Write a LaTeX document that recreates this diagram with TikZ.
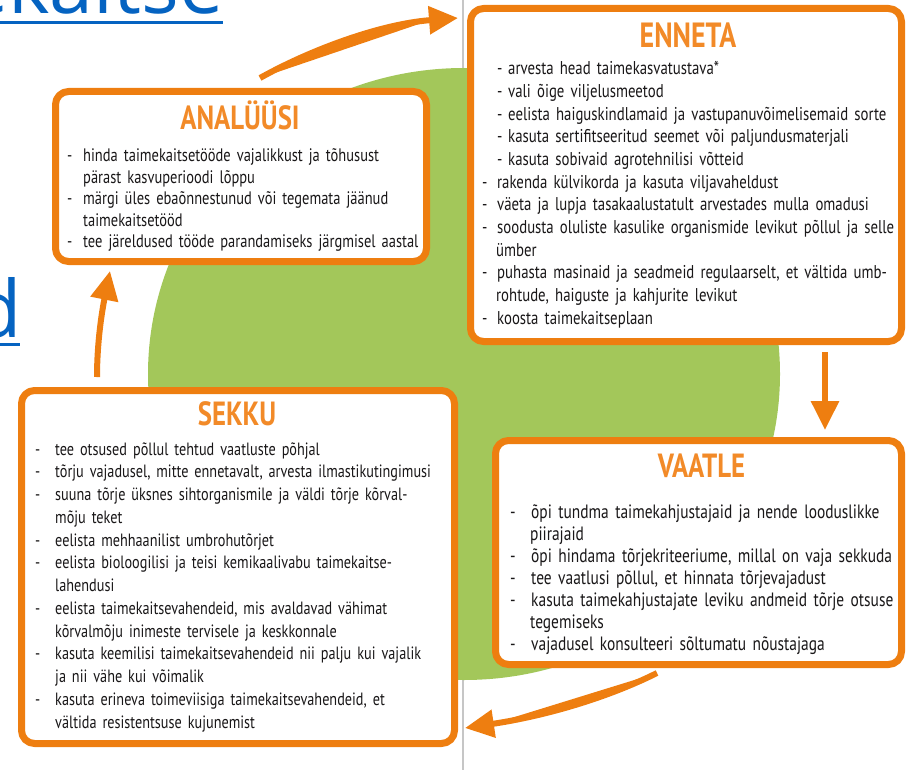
\documentclass[tikz,border=0pt]{standalone}
\usepackage{fontspec}
\usetikzlibrary{arrows.meta}
\newfontfamily\boxfont[FakeStretch=0.8]{PT Sans}
\newfontfamily\linkfont{Open Sans}
\definecolor{ipmorange}{RGB}{238,126,16}
\definecolor{ipmtitle}{RGB}{242,138,40}
\definecolor{ipmgreen}{RGB}{163,199,90}
\definecolor{ipmtext}{RGB}{25,23,24}
\definecolor{linkblue}{RGB}{5,99,193}
\newcommand\li[1][16pt]{\makebox[#1][l]{-}}
\newcommand\cn[1][16pt]{\hspace*{#1}}
\begin{document}
\begin{tikzpicture}[x=1pt,y=-1pt,line join=round,>={Triangle[length=29pt,width=27pt]},
  box/.style={draw=ipmorange,line width=7pt,rounded corners=13pt,fill=white,inner sep=0pt,outer sep=0pt},
  title/.style={anchor=base,inner sep=0pt,text=ipmtitle,font=\boxfont\bfseries\fontsize{33.5}{34}\selectfont},
  body/.style={anchor=base west,inner sep=0pt,text=ipmtext,text width=470pt,align=left},
  link/.style={anchor=base east,inner sep=0pt,text=linkblue,font=\linkfont\fontsize{79}{79}\selectfont},
  cycle/.style={->,draw=ipmorange,fill=ipmorange,line width=6pt}]
\useasboundingbox (0,0) rectangle (907,770);
\clip (0,0) rectangle (907,770);
% background
\draw[gray!45,line width=1.2pt] (463,0)--(463,770);
\fill[ipmgreen] (464,374) ellipse [x radius=316pt,y radius=306pt];
\node[link] (link1) at (224,13.5) {taimekaitse};
\node[link] (link2) at (22,337) {d};
\draw[linkblue,line width=3.5pt] ([yshift=-9pt]link1.base west)--([yshift=-9pt,xshift=-1pt]link1.base east)
  ([yshift=-7.5pt]link2.base west)--([yshift=-7.5pt,xshift=-2pt]link2.base east);
% the four boxes
\node[box,minimum width=371pt,minimum height=170pt] (analyysi) at (241,176.5) {};
\node[box,minimum width=431pt,minimum height=333pt] (enneta) at (686,175) {};
\node[box,minimum width=433pt,minimum height=353pt] (sekku) at (238,567) {};
\node[box,minimum width=406pt,minimum height=224pt] (vaatle) at (698.5,552.5) {};
\node[title] (analyysi title) at ([xshift=-1pt,yshift=-38.5pt]analyysi.north) {ANALÜÜSI};
\node[title,font=\boxfont\bfseries\fontsize{35}{36}\selectfont] (enneta title) at ([xshift=2pt,yshift=-39.5pt]enneta.north) {ENNETA};
\node[title] (sekku title) at ([xshift=-1pt,yshift=-34.5pt]sekku.north) {SEKKU};
\node[title] (vaatle title) at ([xshift=3pt,yshift=-36.5pt]vaatle.north) {VAATLE};
\node[body,font=\boxfont\fontsize{18.1}{21.5}\selectfont] (analyysi list) at ([xshift=11.5pt,yshift=-70.5pt]analyysi.north west)
  {\li hinda taimekaitsetööde vajalikkust ja tõhusust\\
   \cn pärast kasvuperioodi lõppu\\
   \li märgi üles ebaõnnestunud või tegemata jäänud\\
   \cn taimekaitsetööd\\
   \li tee järeldused tööde parandamiseks järgmisel aastal};
\node[body,font=\boxfont\fontsize{18.5}{22.65}\selectfont] (enneta list) at ([xshift=11.5pt,yshift=-66.5pt]enneta.north west)
  {\hspace*{15pt}\li[11pt]arvesta head taimekasvatustava*\\
   \hspace*{15pt}\li[11pt]vali õige viljelusmeetod\\
   \hspace*{15pt}\li[11pt]eelista haiguskindlamaid ja vastupanuvõimelisemaid sorte\\
   \hspace*{15pt}\li[11pt]kasuta sertifitseeritud seemet või paljundusmaterjali\\
   \hspace*{15pt}\li[11pt]kasuta sobivaid agrotehnilisi võtteid\\
   \li[15pt]rakenda külvikorda ja kasuta viljavaheldust\\
   \li[15pt]väeta ja lupja tasakaalustatult arvestades mulla omadusi\\
   \li[15pt]soodusta oluliste kasulike organismide levikut põllul ja selle\\
   \cn[14pt]ümber\\
   \li[15pt]puhasta masinaid ja seadmeid regulaarselt, et vältida umb-\\
   \cn[14pt]rohtude, haiguste ja kahjurite levikut\\
   \li[15pt]koosta taimekaitseplaan};
\node[body,font=\boxfont\fontsize{17.8}{22.75}\selectfont] (sekku list) at ([xshift=13.5pt,yshift=-64.5pt]sekku.north west)
  {\li[20pt]tee otsused põllul tehtud vaatluste põhjal\\
   \li[20pt]tõrju vajadusel, mitte ennetavalt, arvesta ilmastikutingimusi\\
   \li[20pt]suuna tõrje üksnes sihtorganismile ja väldi tõrje kõrval-\\
   \cn[20pt]mõju teket\\
   \li[20pt]eelista mehhaanilist umbrohutõrjet\\
   \li[20pt]eelista bioloogilisi ja teisi kemikaalivabu taimekaitse-\\
   \cn[20pt]lahendusi\\
   \li[20pt]eelista taimekaitsevahendeid, mis avaldavad vähimat\\
   \cn[20pt]kõrvalmõju inimeste tervisele ja keskkonnale\\
   \li[20pt]kasuta keemilisi taimekaitsevahendeid nii palju kui vajalik\\
   \cn[20pt]ja nii vähe kui võimalik\\
   \li[20pt]kasuta erineva toimeviisiga taimekaitsevahendeid, et\\
   \cn[20pt]vältida resistentsuse kujunemist};
\node[body,font=\boxfont\fontsize{19.3}{22}\selectfont] (vaatle list) at ([xshift=14.5pt,yshift=-77.5pt]vaatle.north west)
  {\li[21pt]õpi tundma taimekahjustajaid ja nende looduslikke\\
   \cn[20pt]piirajaid\\
   \li[21pt]õpi hindama tõrjekriteeriume, millal on vaja sekkuda\\
   \li[21pt]tee vaatlusi põllul, et hinnata tõrjevajadust\\
   \li[21pt]kasuta taimekahjustajate leviku andmeid tõrje otsuse\\
   \cn[20pt]tegemiseks\\
   \li[21pt]vajadusel konsulteeri sõltumatu nõustajaga};
% cycle arrows
\draw[cycle] ([xshift=19pt,yshift=13.5pt]analyysi.north) .. controls +(50,-28) and +(-78,6) .. ([xshift=-12.5pt,yshift=-9.5pt]enneta.north west);
\draw[cycle] ([xshift=139pt,yshift=-10.5pt]enneta.south) -- ([xshift=126.5pt,yshift=10.5pt]vaatle.north);
\draw[cycle] ([xshift=-41.5pt,yshift=-8.5pt]vaatle.south) .. controls +(-50,25) and +(80,-12) .. ([xshift=10.5pt,yshift=15.5pt]sekku.south east);
\draw[cycle] ([xshift=75.5pt,yshift=13.5pt]sekku.north west) .. controls +(0,-35) and +(-8,40) .. ([xshift=54.5pt,yshift=-9.5pt]analyysi.south west);
\end{tikzpicture}
\end{document}
